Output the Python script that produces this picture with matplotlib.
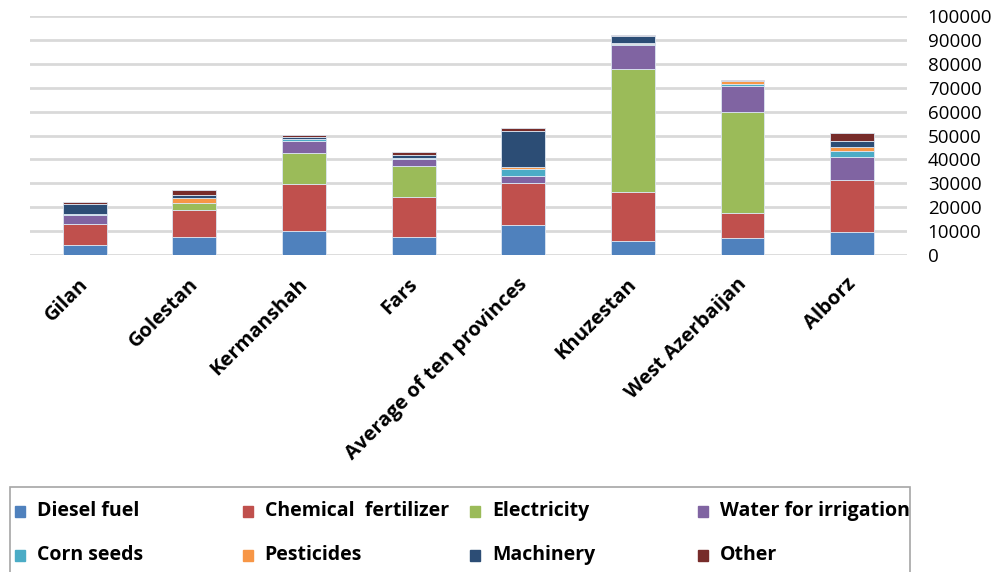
import matplotlib
matplotlib.use("Agg")
import matplotlib.pyplot as plt
import matplotlib.transforms as mtransforms
import numpy as np
from matplotlib.patches import Rectangle

plt.rcParams['font.family'] = ['Open Sans', 'DejaVu Sans']

provinces = ["Gilan", "Golestan", "Kermanshah", "Fars", "Average of ten provinces",
             "Khuzestan", "West Azerbaijan", "Alborz"]

# values (stack segments, bottom to top)
diesel = [4000, 7400, 10000, 7500, 12400, 5900, 7000, 9500]
fertilizer = [9000, 11400, 19700, 16600, 17700, 20300, 10700, 21800]
electricity = [0, 2800, 12800, 13100, 0, 51500, 42100, 0]
irrigation = [3800, 0, 5300, 2800, 3100, 10000, 11000, 9800]
corn_seeds = [200, 0, 700, 400, 2800, 600, 900, 2500]
pesticides = [200, 2400, 200, 200, 800, 500, 1000, 1600]
machinery = [4300, 1100, 700, 1200, 15100, 3000, 0, 2400]
other = [500, 2100, 800, 1400, 1100, 400, 400, 3300]

series = [diesel, fertilizer, electricity, irrigation, corn_seeds, pesticides, machinery, other]
names = ["Diesel fuel", "Chemical  fertilizer", "Electricity", "Water for irrigation",
         "Corn seeds", "Pesticides", "Machinery", "Other"]
colors = ["#4F81BD", "#C0504D", "#9BBB59", "#8064A2",
          "#4BACC6", "#F79646", "#2C4D75", "#772C2A"]

fig = plt.figure(figsize=(9.96, 5.72), dpi=100)
ax = fig.add_axes([0.0301, 0.5542, 0.8805, 0.4178])

x = np.arange(len(provinces))
bottom = np.zeros(len(provinces))
for vals, c in zip(series, colors):
    ax.bar(x, vals, bottom=bottom, width=0.4, color=c, edgecolor="#DCE6F2", linewidth=0.6, zorder=3)
    bottom += np.array(vals)

ax.set_xlim(-0.5, len(provinces) - 0.5)
ax.set_ylim(0, 100000)
ax.set_yticks(np.arange(0, 100001, 10000))
ax.yaxis.tick_right()
ax.tick_params(axis="y", length=0, pad=15, labelsize=13.5)
for lab in ax.get_yticklabels():
    lab.set_ha("left")
ax.grid(axis="y", color="#D9D9D9", linewidth=2, zorder=0)
for s in ax.spines.values():
    s.set_visible(False)

ax.set_xticks(x)
ax.set_xticklabels(provinces, rotation=45, ha="right", rotation_mode="anchor",
                   fontsize=14.5, fontweight="bold")
ax.tick_params(axis="x", length=0, pad=14)
shift = mtransforms.ScaledTranslation(-6 / 100, 0, fig.dpi_scale_trans)
for lab in ax.get_xticklabels():
    lab.set_transform(lab.get_transform() + shift)

# legend box, Excel style equal columns
fig.patches.append(Rectangle((10 / 996, -0.05), 900 / 996, 0.05 + 1 - 487 / 572,
                             transform=fig.transFigure, fill=False,
                             edgecolor="#A6A6A6", linewidth=1.2))
for i, (n, c) in enumerate(zip(names, colors)):
    row, col = divmod(i, 4)
    xs = (15 + col * 227.5) / 996
    ys = 1 - (511 + row * 44) / 572
    fig.patches.append(Rectangle((xs, ys - 5.5 / 572), 10 / 996, 11 / 572,
                                 transform=fig.transFigure, color=c))
    fig.text(xs + 22 / 996, ys, n, fontsize=14, fontweight="bold", va="center", ha="left")

fig.savefig("out.png", dpi=100)
